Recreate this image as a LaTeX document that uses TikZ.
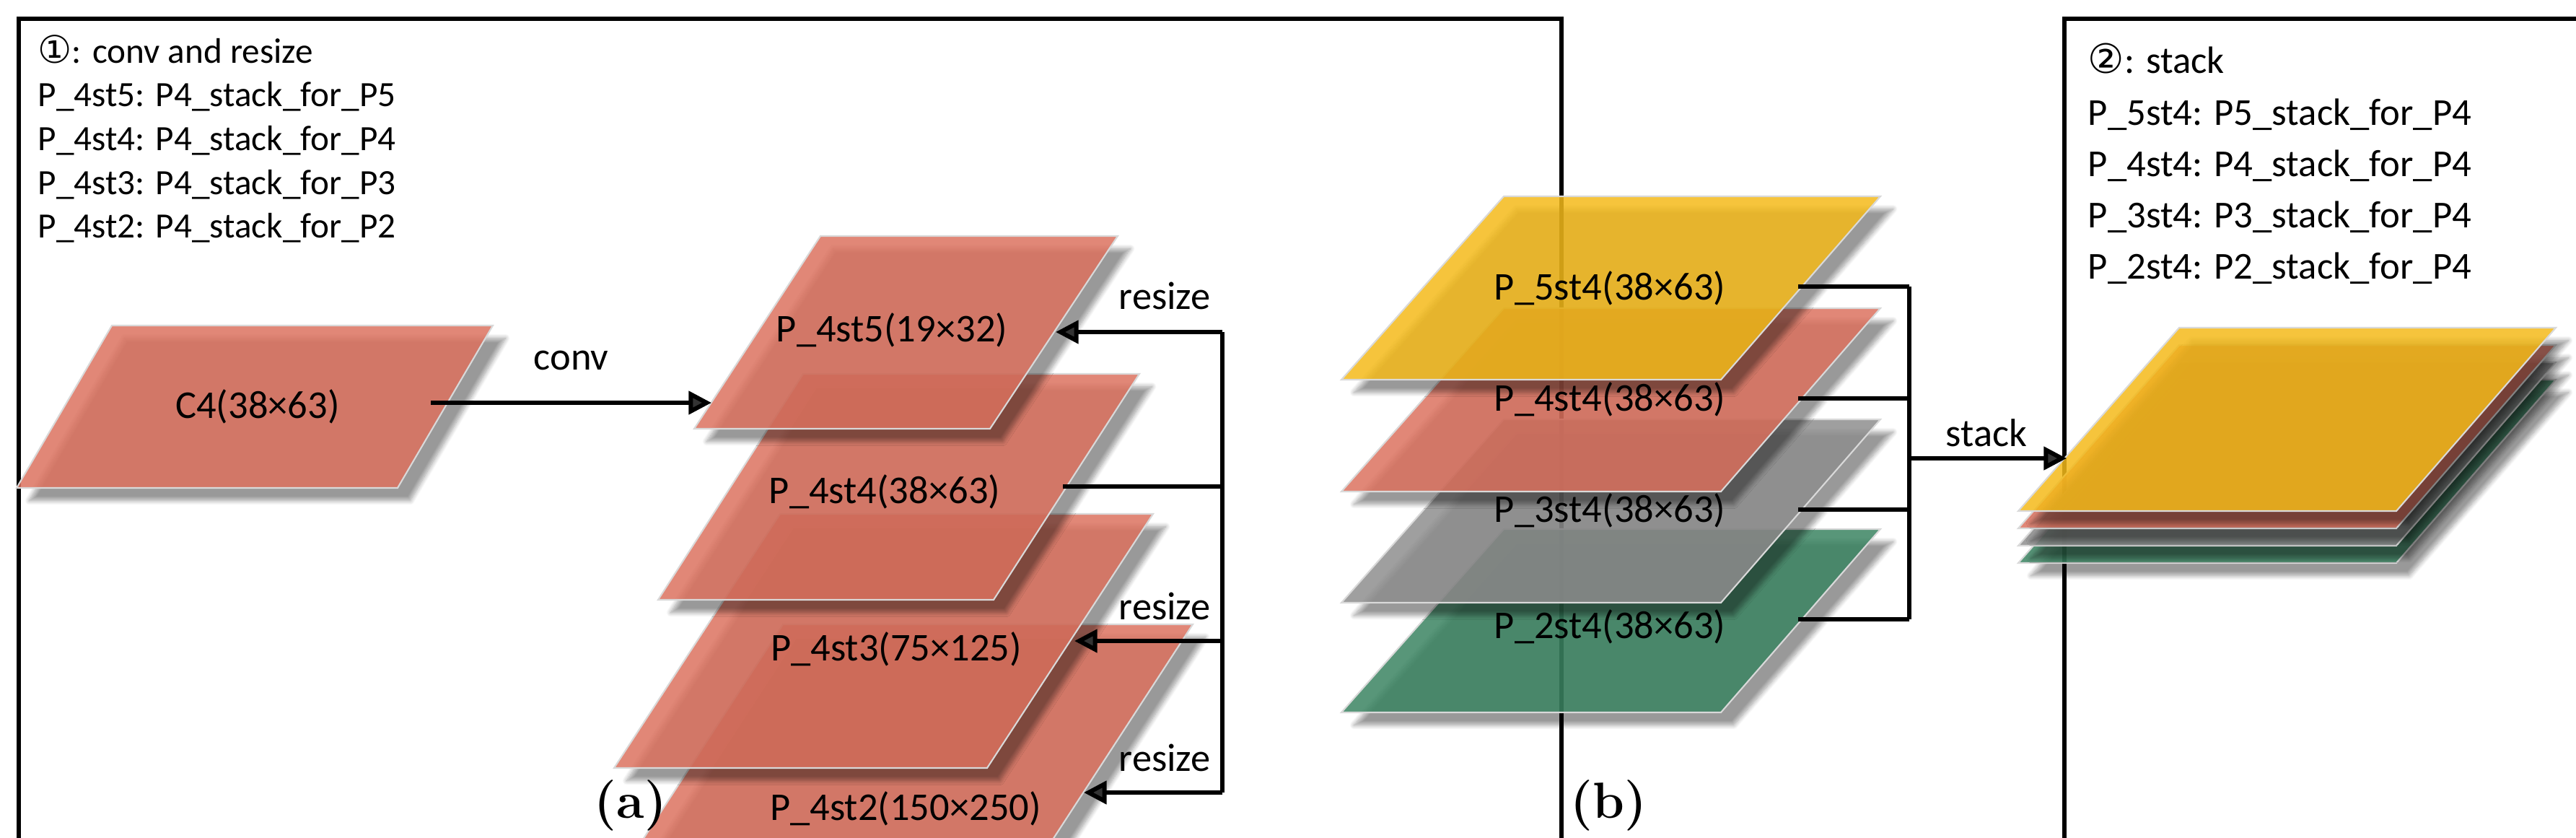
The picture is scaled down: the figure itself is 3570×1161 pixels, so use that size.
\documentclass[tikz,border=0pt]{standalone}
\usepackage{fontspec}
\newfontfamily\carl{Carlito}
\newfontfamily\djv{DejaVu Sans}
\usetikzlibrary{shadows.blur,arrows.meta}
\definecolor{cred}{HTML}{DC725F}
\definecolor{cyel}{HTML}{F4BA1A}
\definecolor{cgry}{HTML}{8E8E8E}
\definecolor{cgrn}{HTML}{3B8462}
\begin{document}
\begin{tikzpicture}[x=0.01cm,y=-0.01cm,
  layer/.style={fill=#1,fill opacity=0.85,draw=black!15,line width=0.6pt,
     blur shadow={shadow xshift=5pt,shadow yshift=-5pt,shadow blur steps=10,shadow opacity=40}},
  lbl/.style={font=\carl\fontsize{15.5}{18}\selectfont,inner sep=0pt},
  box/.style={draw=black,line width=1.6pt,inner sep=0pt},
  btxt/.style={font=\carl\fontsize{14}{17}\selectfont,anchor=west,inner sep=0pt},
  btxt2/.style={font=\carl\fontsize{15}{18}\selectfont,anchor=west,inner sep=0pt},
  conn/.style={line width=1.7pt},
  arr/.style={line width=1.7pt,-{Triangle[length=9pt,width=9pt]}},
  subcap/.style={font=\bfseries\fontsize{20}{24}\selectfont,inner sep=0pt}]
\useasboundingbox (0,0) rectangle (3570,1161);
% ---------- (a) ----------
\node[box,minimum width=608,minimum height=334,anchor=north west] (boxa) at (23,23) {};
\node[btxt] (la0) at (52,68) {{\djv\fontsize{15}{17}\selectfont ①}: conv and resize};
\node[btxt] (la1) at (52,134) {P\_4st5: P4\_stack\_for\_P5};
\node[btxt] (la2) at (52,195) {P\_4st4: P4\_stack\_for\_P4};
\node[btxt] (la3) at (52,256) {P\_4st3: P4\_stack\_for\_P3};
\node[btxt] (la4) at (52,316) {P\_4st2: P4\_stack\_for\_P2};

\draw[layer=cred] (155,451) -- (683,451) -- (551,676) -- (23,676) -- cycle;
\node[lbl] (c4) at (357,563) {C4(38×63)};

\draw[layer=cred] (1085,865) -- (1653,865) -- (1390,1269) -- (822,1269) -- cycle;
\draw[layer=cred] (1081,712) -- (1598,712) -- (1368,1064) -- (851,1064) -- cycle;
\draw[layer=cred] (1113,518) -- (1579,518) -- (1377,831) -- (912,831) -- cycle;
\draw[layer=cred] (1137,327) -- (1549,327) -- (1372,594) -- (962,594) -- cycle;
\node[lbl] (p45) at (1236,457) {P\_4st5(19×32)};
\node[lbl] (p44) at (1226,681) {P\_4st4(38×63)};
\node[lbl] (p43) at (1242,899) {P\_4st3(75×125)};
\node[lbl] (p42) at (1255,1120) {P\_4st2(150×250)};

\coordinate (convs) at (597,558);
\coordinate (convt) at (986,558);
\draw[arr] (convs) -- node[lbl,above=12pt] (convl) {conv} (convt);

\coordinate (r4) at (1473,674);
\coordinate (v4) at (1694,674);
\coordinate (vtop) at (1694,460);
\coordinate (vbot) at (1694,1098);
\coordinate (v3) at (1694,888);
\coordinate (t5) at (1463,460);
\coordinate (t3) at (1489,888);
\coordinate (t2) at (1502,1098);
\draw[conn] (r4) -- (v4);
\draw[conn] (vtop) -- (vbot);
\draw[arr] (vtop) -- (t5);
\draw[arr] (v3) -- (t3);
\draw[arr] (vbot) -- (t2);
\node[lbl] (rs1) at (1614,410) {resize};
\node[lbl] (rs2) at (1614,840) {resize};
\node[lbl] (rs3) at (1614,1050) {resize};

\node[subcap] (capa) at (874,1116) {(a)};

% ---------- (b) ----------
\node[box,minimum width=679,minimum height=398,anchor=north west] (boxb) at (2858,23) {};
\node[btxt2] (lb0) at (2893,81) {{\djv\fontsize{16}{18}\selectfont ②}: stack};
\node[btxt2] (lb1) at (2893,159) {P\_5st4: P5\_stack\_for\_P4};
\node[btxt2] (lb2) at (2893,230) {P\_4st4: P4\_stack\_for\_P4};
\node[btxt2] (lb3) at (2893,301) {P\_3st4: P3\_stack\_for\_P4};
\node[btxt2] (lb4) at (2893,372) {P\_2st4: P2\_stack\_for\_P4};

\draw[layer=cgrn] (2084,733) -- (2606,733) -- (2385,987) -- (1859,987) -- cycle;
\draw[layer=cgry] (2084,581) -- (2606,581) -- (2385,835) -- (1859,835) -- cycle;
\draw[layer=cred] (2084,427) -- (2606,427) -- (2385,681) -- (1859,681) -- cycle;
\draw[layer=cyel] (2084,272) -- (2606,272) -- (2385,526) -- (1859,526) -- cycle;
\node[lbl] (q5) at (2231,399) {P\_5st4(38×63)};
\node[lbl] (q4) at (2231,553) {P\_4st4(38×63)};
\node[lbl] (q3) at (2231,707) {P\_3st4(38×63)};
\node[lbl] (q2) at (2231,868) {P\_2st4(38×63)};

\draw[layer=cgrn] (3020,526) -- (3542,526) -- (3321,780) -- (2797,780) -- cycle;
\draw[layer=cgry] (3020,502) -- (3542,502) -- (3321,756) -- (2797,756) -- cycle;
\draw[layer=cred] (3020,478) -- (3542,478) -- (3321,732) -- (2797,732) -- cycle;
\draw[layer=cyel] (3020,454) -- (3542,454) -- (3321,708) -- (2797,708) -- cycle;

\coordinate (s5) at (2492,397);
\coordinate (s4) at (2492,552);
\coordinate (s3) at (2492,706);
\coordinate (s2) at (2492,858);
\coordinate (w5) at (2646,397);
\coordinate (w4) at (2646,552);
\coordinate (w3) at (2646,706);
\coordinate (w2) at (2646,858);
\coordinate (wm) at (2646,635);
\coordinate (st) at (2864,635);
\draw[conn] (s5) -- (w5);
\draw[conn] (s4) -- (w4);
\draw[conn] (s3) -- (w3);
\draw[conn] (s2) -- (w2);
\draw[conn] (w5) -- (w2);
\draw[arr] (wm) -- (st);
\node[lbl] (stl) at (2753,600) {stack};

\node[subcap] (capb) at (2229,1116) {(b)};
\end{tikzpicture}
\end{document}
